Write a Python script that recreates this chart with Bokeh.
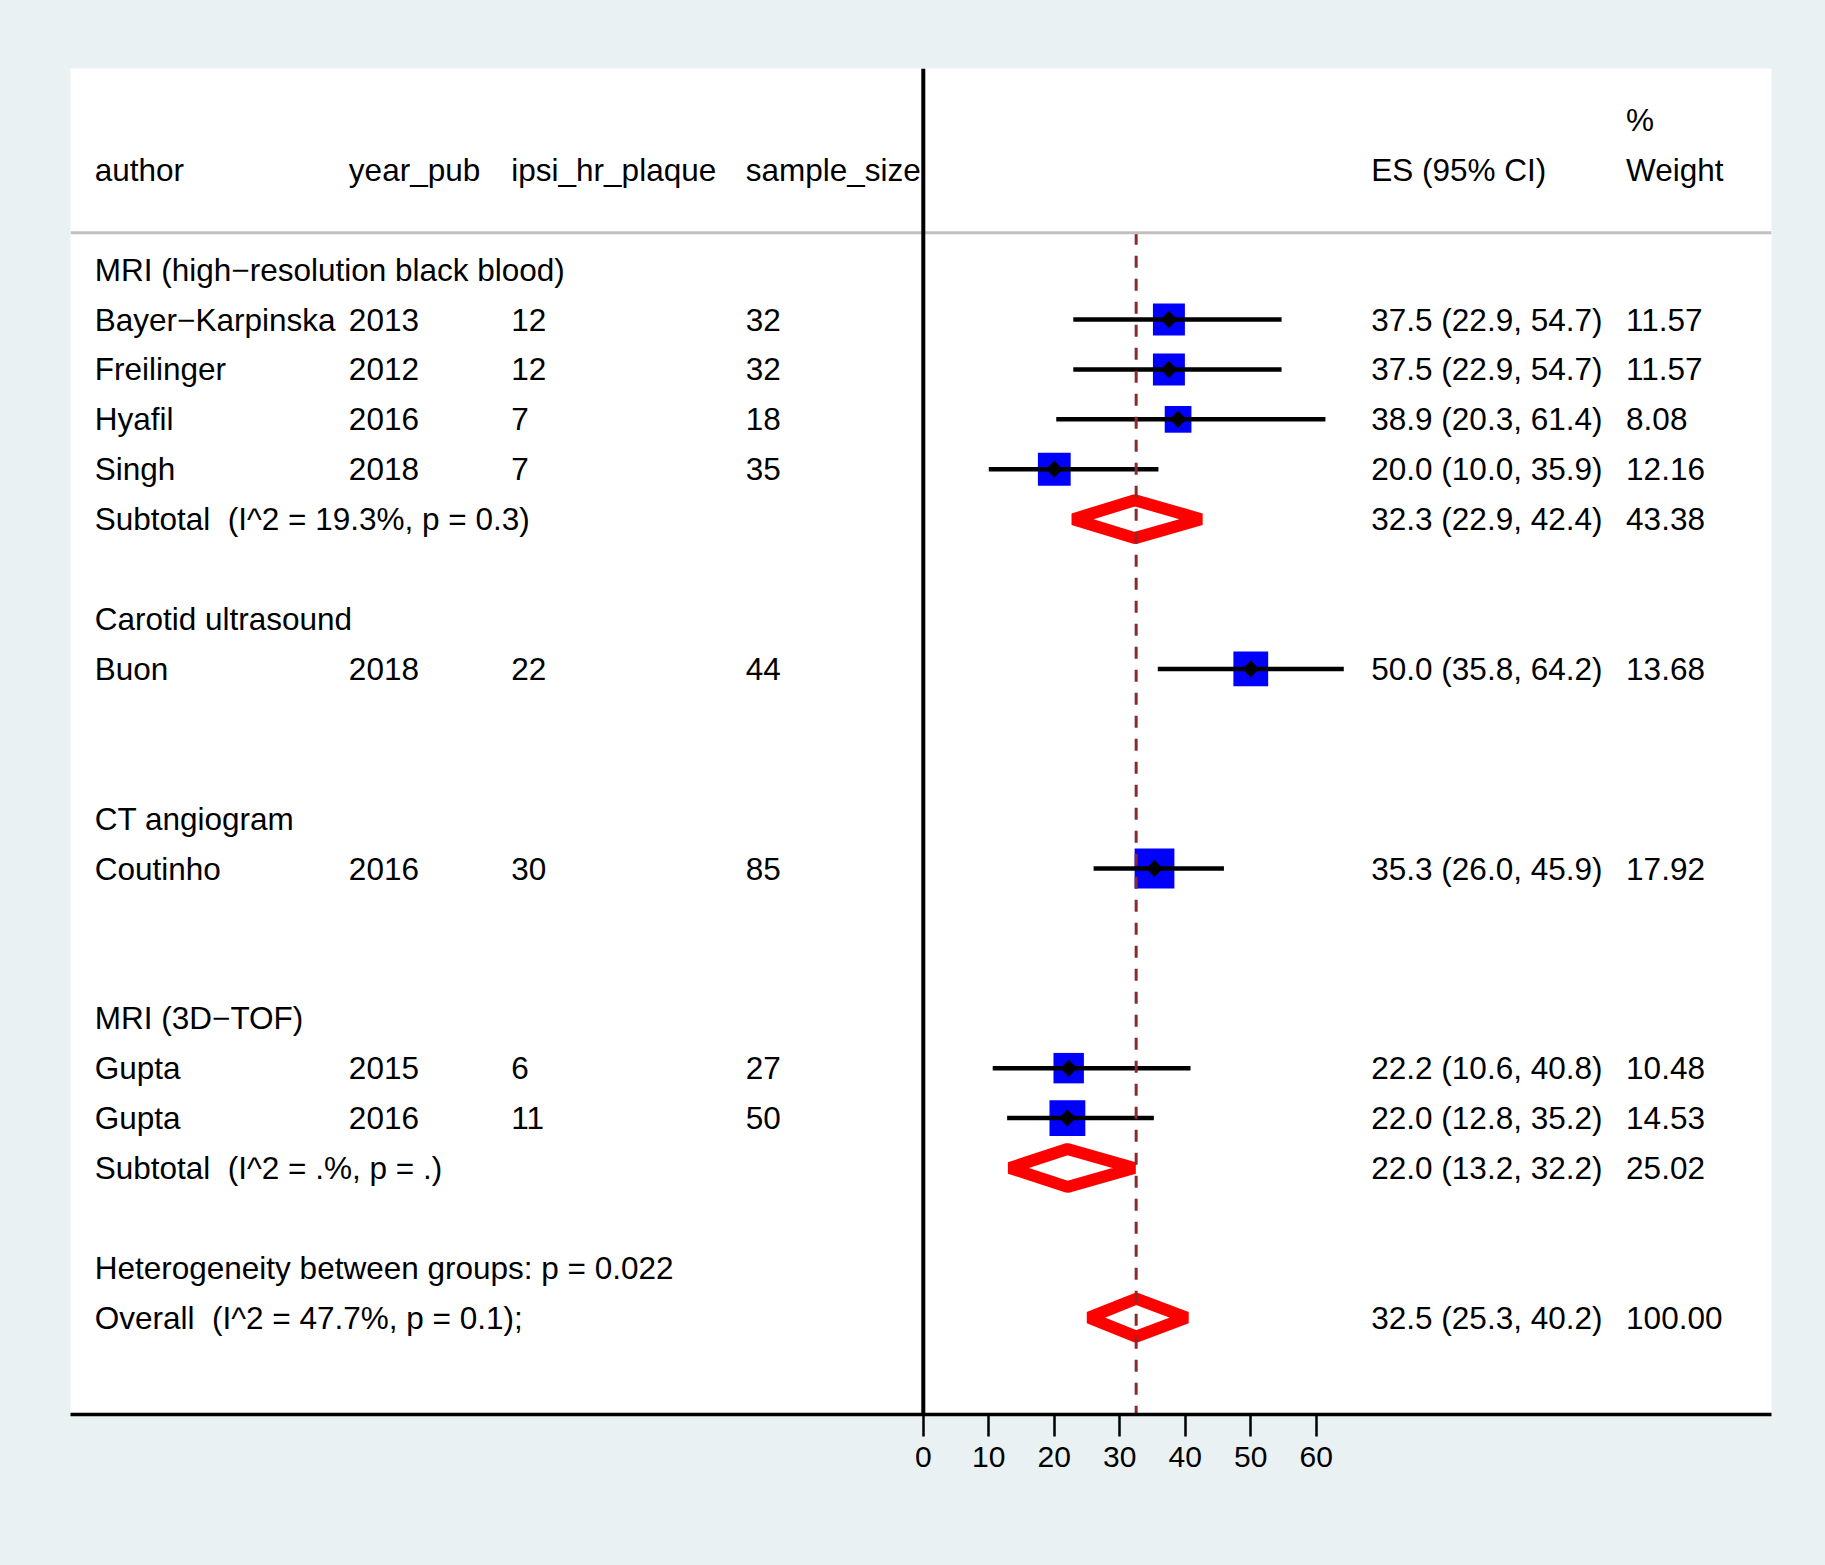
import numpy as np
from bokeh.plotting import figure
from bokeh.models import ColumnDataSource, Span, FixedTicker, Range1d, GlobalInlineStyleSheet
from bokeh.core.properties import value
from bokeh.embed import file_html
from bokeh.resources import INLINE

# ---------------- data ----------------
groups = ["MRI (high\u2212resolution black blood)", "Carotid ultrasound", "CT angiogram", "MRI (3D\u2212TOF)"]
authors = ["Bayer\u2212Karpinska", "Freilinger", "Hyafil", "Singh", "Buon", "Coutinho", "Gupta", "Gupta"]
study_group = [0, 0, 0, 0, 1, 2, 3, 3]
year_pub = [2013, 2012, 2016, 2018, 2018, 2016, 2015, 2016]
ipsi_hr_plaque = [12, 12, 7, 7, 22, 30, 6, 11]
sample_size = [32, 32, 18, 35, 44, 85, 27, 50]
es = [37.5, 37.5, 38.9, 20.0, 50.0, 35.3, 22.2, 22.0]
lci = [22.9, 22.9, 20.3, 10.0, 35.8, 26.0, 10.6, 12.8]
uci = [54.7, 54.7, 61.4, 35.9, 64.2, 45.9, 40.8, 35.2]
weight = [11.57, 11.57, 8.08, 12.16, 13.68, 17.92, 10.48, 14.53]

sub_labels = ["Subtotal \u00a0(I^2 = 19.3%, p = 0.3)", None, None, "Subtotal \u00a0(I^2 = .%, p = .)"]
sub_es = [32.3, None, None, 22.0]
sub_lci = [22.9, None, None, 13.2]
sub_uci = [42.4, None, None, 32.2]
sub_weight = [43.38, None, None, 25.02]

het_label = "Heterogeneity between groups: p = 0.022"
overall_label = "Overall \u00a0(I^2 = 47.7%, p = 0.1);"
overall_es, overall_lci, overall_uci, overall_weight = 32.5, 25.3, 40.2, 100.00

xticks = [0, 10, 20, 30, 40, 50, 60]
headers = ["author", "year_pub", "ipsi_hr_plaque", "sample_size", "ES (95% CI)", "Weight"]

# ---------------- layout of rows ----------------
row = 0
group_rows, study_rows, sub_rows = [], [None] * len(authors), []
for g in range(len(groups)):
    group_rows.append(row)
    row += 1
    for i, sg in enumerate(study_group):
        if sg == g:
            study_rows[i] = row
            row += 1
    sub_rows.append(row)
    row += 2
het_row = row
overall_row = row + 1

# column x positions (data units of the ES axis)
X_AUTH, X_YEAR, X_IPSI, X_SAMP, X_ES, X_W = -126.5, -87.7, -62.9, -27.1, 68.4, 107.3

FONT = value("Liberation Sans")
FS = value("31.5px")

p = figure(width=1825, height=1565, output_backend="svg", toolbar_location=None,
           x_range=Range1d(-130.2, 129.5), y_range=Range1d(22.94, -4.03),
           y_axis_location=None, min_border_left=70, min_border_right=54,
           min_border_top=68, min_border_bottom=151)
p.background_fill_color = "white"
p.border_fill_color = "#eaf1f3"
p.outline_line_color = None
p.xgrid.visible = False
p.ygrid.visible = False
p.stylesheets = [GlobalInlineStyleSheet(css="body{background:#eaf1f3;}")]

# axis
ax = p.xaxis[0]
ax.ticker = FixedTicker(ticks=xticks)
ax.axis_line_width = 3.5
ax.axis_line_color = "black"
ax.major_tick_line_width = 2.5
ax.major_tick_out = 22
ax.major_tick_in = 0
ax.minor_tick_out = 0
ax.minor_tick_in = 0
ax.major_label_standoff = 10
ax.major_label_text_font = "Liberation Sans"
ax.major_label_text_font_size = "30px"
ax.major_label_text_color = "black"

# reference lines
p.add_layout(Span(location=-0.74, dimension="width", line_color="#c0c0c0", line_width=3))
p.add_layout(Span(location=0, dimension="height", line_color="black", line_width=4))

# squares
ssrc = ColumnDataSource(dict(
    y=study_rows, es=es, lci=lci, uci=uci,
    size=[9.4 * np.sqrt(w) for w in weight],
))
p.scatter("es", "y", source=ssrc, marker="square", size="size", fill_color="#0000ff", line_color=None)
p.segment("lci", "y", "uci", "y", source=ssrc, line_color="black", line_width=4.5)
p.scatter("es", "y", source=ssrc, marker="square", angle=np.pi / 4, size=12,
          fill_color="black", line_color=None)

# pooled diamonds
H = 0.38
d_es, d_l, d_u, d_r = [], [], [], []
for i in range(len(groups)):
    if sub_es[i] is not None:
        d_es.append(sub_es[i]); d_l.append(sub_lci[i]); d_u.append(sub_uci[i]); d_r.append(sub_rows[i])
d_es.append(overall_es); d_l.append(overall_lci); d_u.append(overall_uci); d_r.append(overall_row)
xs = [[l, e, u, e] for l, e, u in zip(d_l, d_es, d_u)]
ys = [[r, r - H, r, r + H] for r in d_r]
p.patches(xs, ys, fill_color=None, line_color="#ff0000", line_width=12, line_join="bevel")

# dashed overall line
p.segment(x0=[overall_es], y0=[-0.74], x1=[overall_es], y1=[22.94],
          line_color="#8b2a2e", line_width=3, line_dash="12 11")

# ---------------- texts ----------------
tx, ty, tt = [], [], []
def add(x, y, t):
    tx.append(x); ty.append(y); tt.append(t)

for x, h in zip([X_AUTH, X_YEAR, X_IPSI, X_SAMP, X_ES, X_W], headers):
    add(x, -2, h)
add(X_W, -3, "%")
for g, r in enumerate(group_rows):
    add(X_AUTH, r, groups[g])
for i, r in enumerate(study_rows):
    add(X_AUTH, r, authors[i])
    add(X_YEAR, r, str(year_pub[i]))
    add(X_IPSI, r, str(ipsi_hr_plaque[i]))
    add(X_SAMP, r, str(sample_size[i]))
    add(X_ES, r, f"{es[i]:.1f} ({lci[i]:.1f}, {uci[i]:.1f})")
    add(X_W, r, f"{weight[i]:.2f}")
for g, r in enumerate(sub_rows):
    if sub_labels[g] is not None:
        add(X_AUTH, r, sub_labels[g])
        add(X_ES, r, f"{sub_es[g]:.1f} ({sub_lci[g]:.1f}, {sub_uci[g]:.1f})")
        add(X_W, r, f"{sub_weight[g]:.2f}")
add(X_AUTH, het_row, het_label)
add(X_AUTH, overall_row, overall_label)
add(X_ES, overall_row, f"{overall_es:.1f} ({overall_lci:.1f}, {overall_uci:.1f})")
add(X_W, overall_row, f"{overall_weight:.2f}")

p.text(x=tx, y=ty, text=tt, text_font=FONT, text_font_size=FS, text_color="black",
       text_align="left", text_baseline="middle")

open("out.html", "w").write(file_html(p, INLINE))
